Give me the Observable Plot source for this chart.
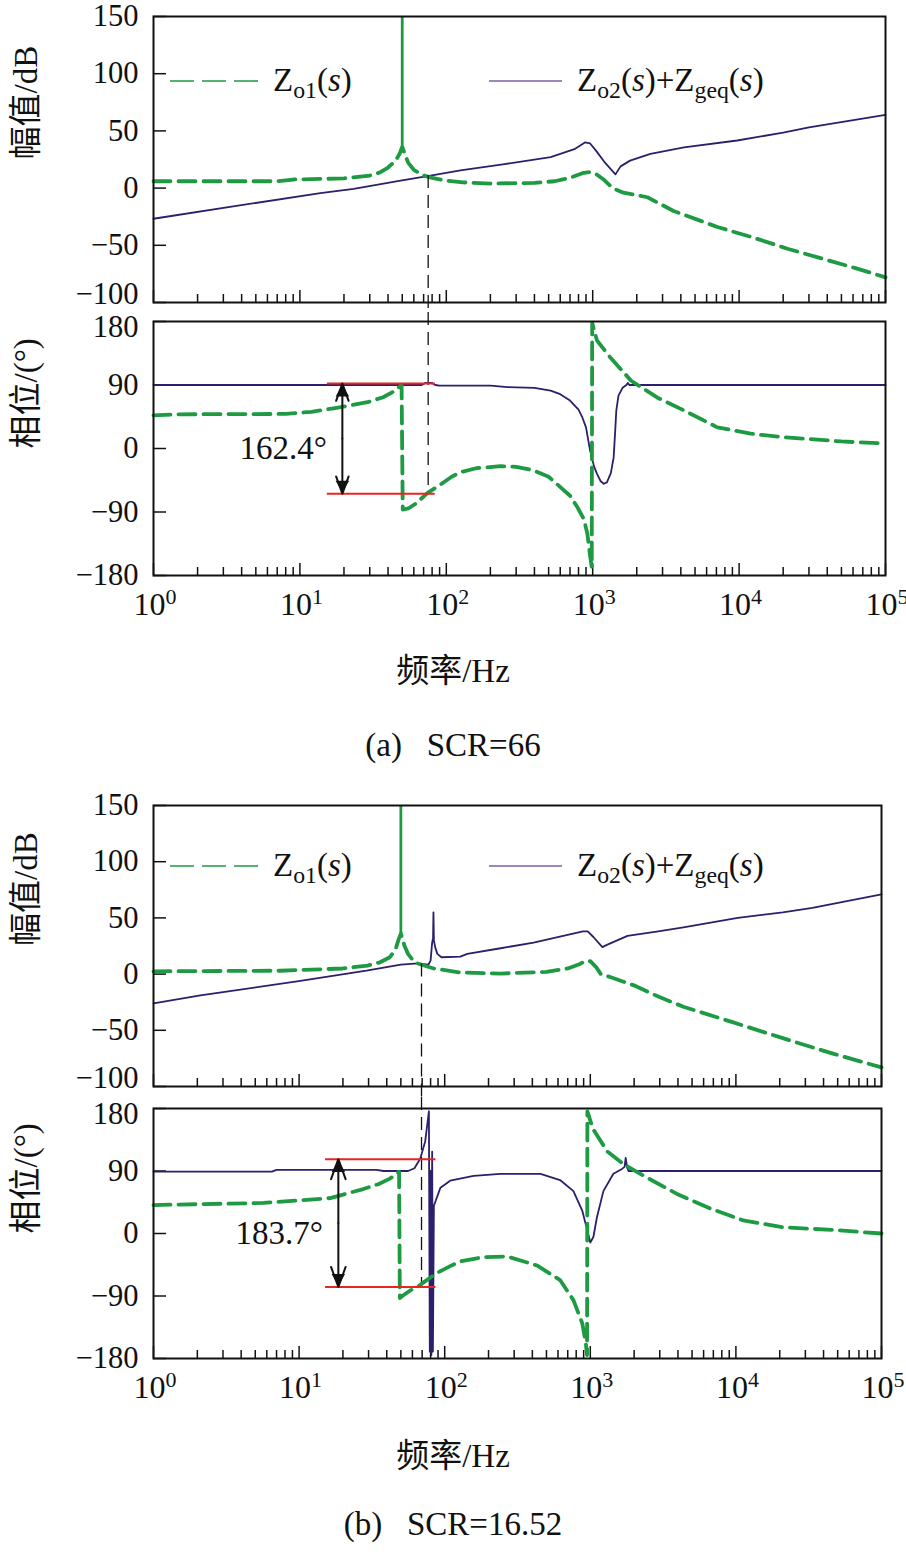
<!DOCTYPE html>
<html><head><meta charset="utf-8">
<script src="https://cdn.jsdelivr.net/npm/d3@7"></script>
<script src="https://cdn.jsdelivr.net/npm/@observablehq/plot@0.6"></script>
<style>
body{margin:0;background:#fff;}
#fig{position:relative;width:906px;height:1552px;background:#fff;font-family:'Liberation Serif','Noto Sans CJK SC',serif;color:#111;}
.pnl{position:absolute;left:0;}
.pnl svg{display:block;}
.ttl{position:absolute;left:0;width:906px;text-align:center;font-size:33px;line-height:40px;height:40px;white-space:pre;}
.leg{position:absolute;font-size:33px;line-height:40px;height:40px;white-space:nowrap;}
.leg sub{font-size:0.72em;vertical-align:-0.28em;line-height:0;}
.sw{position:absolute;}
</style></head><body><div id="fig"></div>
<script>
// ---------- shared axis data ----------
const decades = [1, 10, 100, 1000, 10000, 100000];
const exponents = ["0", "1", "2", "3", "4", "5"];
const magTicks = [-100, -50, 0, 50, 100, 150];
const phaseTicks = [-180, -90, 0, 90, 180];
const magLabel = "幅值/dB";
const phaseLabel = "相位/(°)";
const xTitle = "频率/Hz";
const captions = ["(a)\u2002\u2005SCR=66", "(b)\u2002\u2005SCR=16.52"];
const legendNames = ["Z<sub>o1</sub>(<i>s</i>)", "Z<sub>o2</sub>(<i>s</i>)+Z<sub>geq</sub>(<i>s</i>)"];

// ---------- (a) SCR=66 ----------
const aMagZo1F = [1, 7, 9, 20, 30, 35, 40, 45, 48, 50, 52, 55, 60, 70, 80, 100, 130, 200, 400, 550, 700, 850, 950, 1050, 1200, 1370, 1620, 2366, 3565, 7110, 12300, 21400, 37800, 62400, 100000];
const aMagZo1 = [6, 6, 7.5, 8.5, 11, 13.5, 18, 24, 30, 36, 30, 22, 16, 11, 9, 6.5, 5, 4, 4.5, 6, 9, 13, 14, 12.5, 7, 0, -4, -8, -20, -34, -43, -53, -62, -70, -78];
const aMagZo2F = [1, 3.5, 13.8, 23.3, 48.7, 78, 125, 250, 516, 750, 890, 960, 1050, 1200, 1430, 1550, 1800, 2480, 4200, 9700, 20000, 30000, 100000];
const aMagZo2 = [-26.8, -16, -4.4, -0.6, 6.6, 11, 15.4, 21, 27, 34, 40, 39, 33, 23, 12, 19, 24, 30, 35.6, 41.6, 48.5, 53, 64];
const aPhZo1F = [1, 1.5, 8, 12, 17, 22, 29, 37, 44, 48.7, 49.5, 50.4, 55, 62, 74.5, 90, 107, 125, 160, 235, 300, 394, 500, 604, 700, 790, 870, 920, 960, 985, 992, 1070, 1320, 1830, 2770, 4200, 7100, 12000, 20000, 50000, 100000];
const aPhZo1 = [47, 48.5, 49, 52, 57, 61, 65.6, 72.6, 81, 89, 90, -86.5, -85, -78, -63, -52, -41, -33.5, -28, -25, -26, -31, -40, -55, -67, -84, -100, -121, -152, -168, 178, 153, 129, 96, 72, 54, 30, 21, 16, 10, 7];
const aPhZo2F = [1, 68, 72, 80, 84, 90, 200, 262, 400, 516, 600, 700, 800, 850, 900, 960, 1020, 1070, 1130, 1190, 1250, 1330, 1390, 1420, 1450, 1500, 1600, 1700, 1740, 1780, 100000];
const aPhZo2 = [90, 90, 93, 93, 90, 89, 89, 87, 86, 82, 77, 68, 55, 44, 30, -3, -25, -36, -46, -50, -48, -35, -13, 20, 54, 75, 86, 90, 93, 90, 90];
const aSpike = [{f: 50, from: 35, to: 150}];
const aCross = [{f: 75.2, mag: 11, phase: -64}];
const aBand = [{high: 92, low: -64, f1: 15.4, f2: 84, fArrow: 19.5, fLabel: 7.7, label: "162.4°"}];

// ---------- (b) SCR=16.52 ----------
const bMagZo1F = [1, 7.4, 20, 29.5, 36, 42, 46, 48, 50, 53, 56, 60, 65, 75, 84, 128, 242, 500, 700, 850, 930, 1000, 1100, 1180, 1400, 1990, 2930, 4360, 9600, 21000, 47000, 100000];
const bMagZo1 = [2.5, 3, 5, 7.6, 10.5, 15, 22, 30, 36, 25, 18, 13, 9.5, 7, 5, 1.4, 0.5, 2, 5, 9, 12, 11.5, 6, 0, -3, -10, -20, -29, -43, -57, -71, -83];
const bMagZo2F = [1, 2.1, 10.2, 29, 50, 65, 77.4, 80, 82, 83.2, 83.7, 84.3, 86, 89, 95, 128, 143, 242, 408, 890, 960, 1050, 1210, 1300, 1530, 1800, 2930, 4360, 10300, 21000, 33500, 100000];
const bMagZo2 = [-26, -19, -6, 3, 8.5, 9.5, 8.5, 12, 28, 32, 55, 30, 24, 18, 15, 15.6, 18, 23, 28, 38, 38, 33, 24, 26, 30, 34, 38, 41.5, 50, 55, 59, 71];
const bPhZo1F = [1, 5.7, 16.4, 27.6, 35, 42, 47, 48.6, 49.2, 52, 58, 65, 72, 90, 109, 128, 184, 268, 430, 620, 766, 880, 930, 950, 955, 1040, 1310, 1690, 2330, 3940, 6680, 11200, 21000, 47000, 100000];
const bPhZo1 = [41, 44, 51, 64, 71, 79, 86, 89, -93, -89, -82, -77, -70, -56, -47, -40, -34, -33, -46, -67, -96, -129, -157, -175, 176, 151, 118, 100, 83, 57, 36, 19, 9, 5, 0];
const bPhZo2F = [1, 6.5, 7, 34, 38, 56, 62, 68, 73.5, 77.9, 79, 80, 81, 82, 83, 84.3, 86, 93.5, 109, 158, 242, 455, 620, 766, 880, 955, 1000, 1050, 1110, 1230, 1440, 1650, 1720, 1750, 1790, 1830, 100000];
const bPhZo2 = [89, 89, 91.5, 91.5, 90, 90, 94, 108, 133, 176, -170, 90, -175, 118, -170, 40, 45, 66, 76, 83, 86, 86, 77, 61, 33, 4, -13, -5, 23, 61, 86, 93, 96, 109, 95, 90, 90];
const bSpike = [{f: 50, from: 36, to: 150}];
const bCross = [{f: 69.3, mag: 9, phase: -77}];
const bBand = [{high: 107, low: -77, f1: 15.2, f2: 87, fArrow: 18.6, fLabel: 7.3, label: "183.7°"}];

// ---------- styling ----------
const FONT = "'Liberation Serif','Noto Sans CJK SC',serif";
const GREEN = "#1e9a42", PURPLE = "#2c1f6b", RED = "#e8261f", LEGPURPLE = "#7b5ea7";
const minorTicks = [];
for (const d of decades.slice(0, -1)) for (let m = 2; m <= 9; m++) minorTicks.push(d * m);
const zip = (F, V) => F.map((f, i) => ({f, v: V[i]}));
const fmt = d => d < 0 ? "\u2212" + (-d) : String(d);

function panel({height, marginTop, marginBottom, marginRight, yDomain, yTicks, yLabel, showX, edgeTick, edgeDy, marks}) {
  return Plot.plot({
    width: 906, height, marginLeft: 153, marginRight, marginTop, marginBottom,
    style: {fontFamily: FONT, fontSize: "30px", background: "transparent", overflow: "visible", color: "#111"},
    x: {type: "log", domain: [1, 1e5]},
    y: {domain: yDomain},
    marks: [
      Plot.axisX({ticks: minorTicks, tickSize: -8, strokeWidth: 1.5, tickFormat: () => "", label: null}),
      Plot.axisX({ticks: decades, tickSize: -12, strokeWidth: 1.5, tickFormat: () => "", label: null}),
      Plot.axisY({ticks: yTicks, tickSize: -13, strokeWidth: 1.5, text: null, label: null}),
      Plot.axisY({ticks: yTicks.filter(t => t !== edgeTick), tickSize: 0, tickPadding: 15, tickFormat: fmt, label: null, fontSize: 30.5}),
      Plot.axisY({ticks: [edgeTick], tickSize: 0, tickPadding: 15, tickFormat: fmt, label: null, fontSize: 30.5, dy: edgeDy}),
      ...(showX ? [
        Plot.text(decades, {x: d => d, frameAnchor: "bottom", text: () => "10", textAnchor: "end", dx: 12, dy: 39, fontSize: 32}),
        Plot.text(decades, {x: d => d, frameAnchor: "bottom", text: (d, i) => exponents[i], textAnchor: "start", dx: 12, dy: 28, fontSize: 22})
      ] : []),
      Plot.text([yLabel], {frameAnchor: "left", text: d => d, rotate: -90, dx: -127, fontSize: 33}),
      ...marks,
      Plot.frame({stroke: "#111", strokeWidth: 2})
    ]
  });
}

function magMarks(z1F, z1, z2F, z2, spike, cross, extBottom) {
  return [
    Plot.line(zip(z2F, z2), {x: "f", y: "v", stroke: PURPLE, strokeWidth: 1.8}),
    Plot.ruleX(spike, {x: "f", y1: "from", y2: "to", stroke: GREEN, strokeWidth: 2.8}),
    Plot.line(zip(z1F, z1), {x: "f", y: "v", stroke: GREEN, strokeWidth: 3.8, strokeDasharray: "17,8"}),
    Plot.ruleX(cross, {x: "f", y1: "mag", y2: () => extBottom, stroke: "#111", strokeWidth: 1.3, strokeDasharray: "13,7"})
  ];
}
function phaseMarks(z1F, z1, z2F, z2, cross, band, extTop) {
  const mid = d => (d.high + d.low) / 2;
  return [
    Plot.ruleX(cross, {x: "f", y1: () => extTop, y2: "phase", stroke: "#111", strokeWidth: 1.3, strokeDasharray: "13,7"}),
    Plot.line(zip(z2F, z2), {x: "f", y: "v", stroke: PURPLE, strokeWidth: 1.8}),
    Plot.line(zip(z1F, z1), {x: "f", y: "v", stroke: GREEN, strokeWidth: 3.8, strokeDasharray: "17,8"}),
    Plot.ruleY(band, {y: "high", x1: "f1", x2: "f2", stroke: RED, strokeWidth: 2}),
    Plot.ruleY(band, {y: "low", x1: "f1", x2: "f2", stroke: RED, strokeWidth: 2}),
    Plot.arrow(band, {x1: "fArrow", x2: "fArrow", y1: mid, y2: "high", stroke: "#111", strokeWidth: 2, headLength: 16, headAngle: 40}),
    Plot.arrow(band, {x1: "fArrow", x2: "fArrow", y1: mid, y2: "low", stroke: "#111", strokeWidth: 2, headLength: 16, headAngle: 40}),
    Plot.dot(band, {x: "fArrow", y: "high", symbol: "triangle", r: 5, fill: "#111", stroke: null, dy: 9}),
    Plot.dot(band, {x: "fArrow", y: "low", symbol: "triangle", r: 5, fill: "#111", stroke: null, dy: -9, rotate: 180}),
    Plot.text(band, {x: "fLabel", y: () => 0, text: "label", fontSize: 33, fill: "#111"})
  ];
}

const fig = document.getElementById("fig");
function place(el, top) { const d = document.createElement("div"); d.className = "pnl"; d.style.top = top + "px"; d.appendChild(el); fig.appendChild(d); }
function addText(cls, html, top, left) { const d = document.createElement("div"); d.className = cls; d.innerHTML = html; d.style.top = top + "px"; if (left != null) d.style.left = left + "px"; fig.appendChild(d); }
function swatch(top, left, width, color, sw, dash) {
  const ns = "http://www.w3.org/2000/svg";
  const s = document.createElementNS(ns, "svg");
  s.setAttribute("width", width); s.setAttribute("height", 10); s.setAttribute("class", "sw");
  s.style.top = (top - 5) + "px"; s.style.left = left + "px"; s.style.position = "absolute";
  const l = document.createElementNS(ns, "line");
  l.setAttribute("x1", 0); l.setAttribute("x2", width); l.setAttribute("y1", 5); l.setAttribute("y2", 5);
  l.setAttribute("stroke", color); l.setAttribute("stroke-width", sw); if (dash) l.setAttribute("stroke-dasharray", dash);
  s.appendChild(l); fig.appendChild(s);
}
function legend(cy) {
  swatch(cy, 170, 88, GREEN, 1.6, "24,8");
  addText("leg", legendNames[0], cy - 21, 273);
  swatch(cy, 489, 73, LEGPURPLE, 1.6, null);
  addText("leg", legendNames[1], cy - 21, 577);
}

// panel geometry: (a) mag frame 16-302, phase 321-575 ; (b) mag 805-1086, phase 1108-1358
const aMagH = 312, aMagMT = 16, aMagMB = 10;
const aPhMT = 9, aPhH = 330, aPhMB = 67;
const bMagH = 309, bMagMT = 17, bMagMB = 11;
const bPhMT = 11, bPhH = 325, bPhMB = 64;
const ext = (h, mt, mb, dom, px) => (dom[1] - dom[0]) / (h - mt - mb) * px;

place(panel({height: aMagH, marginTop: aMagMT, marginBottom: aMagMB, marginRight: 21, yDomain: [-100, 150], yTicks: magTicks, yLabel: magLabel, edgeTick: -100, edgeDy: -8,
  marks: magMarks(aMagZo1F, aMagZo1, aMagZo2F, aMagZo2, aSpike, aCross, -100 - ext(aMagH, aMagMT, aMagMB, [-100, 150], aMagMB))}), 0);
place(panel({height: aPhH, marginTop: aPhMT, marginBottom: aPhMB, marginRight: 21, yDomain: [-180, 180], yTicks: phaseTicks, yLabel: phaseLabel, showX: true, edgeTick: 180, edgeDy: 6,
  marks: phaseMarks(aPhZo1F, aPhZo1, aPhZo2F, aPhZo2, aCross, aBand, 180 + ext(aPhH, aPhMT, aPhMB, [-180, 180], aPhMT))}), 312);
addText("ttl", xTitle, 651);
addText("ttl", captions[0], 725);
legend(81);

place(panel({height: bMagH, marginTop: bMagMT, marginBottom: bMagMB, marginRight: 25, yDomain: [-100, 150], yTicks: magTicks, yLabel: magLabel, edgeTick: -100, edgeDy: -8,
  marks: magMarks(bMagZo1F, bMagZo1, bMagZo2F, bMagZo2, bSpike, bCross, -100 - ext(bMagH, bMagMT, bMagMB, [-100, 150], bMagMB))}), 788);
place(panel({height: bPhH, marginTop: bPhMT, marginBottom: bPhMB, marginRight: 25, yDomain: [-180, 180], yTicks: phaseTicks, yLabel: phaseLabel, showX: true, edgeTick: 180, edgeDy: 6,
  marks: phaseMarks(bPhZo1F, bPhZo1, bPhZo2F, bPhZo2, bCross, bBand, 180 + ext(bPhH, bPhMT, bPhMB, [-180, 180], bPhMT))}), 1097);
addText("ttl", xTitle, 1436);
addText("ttl", captions[1], 1504);
legend(866);
</script></body></html>
